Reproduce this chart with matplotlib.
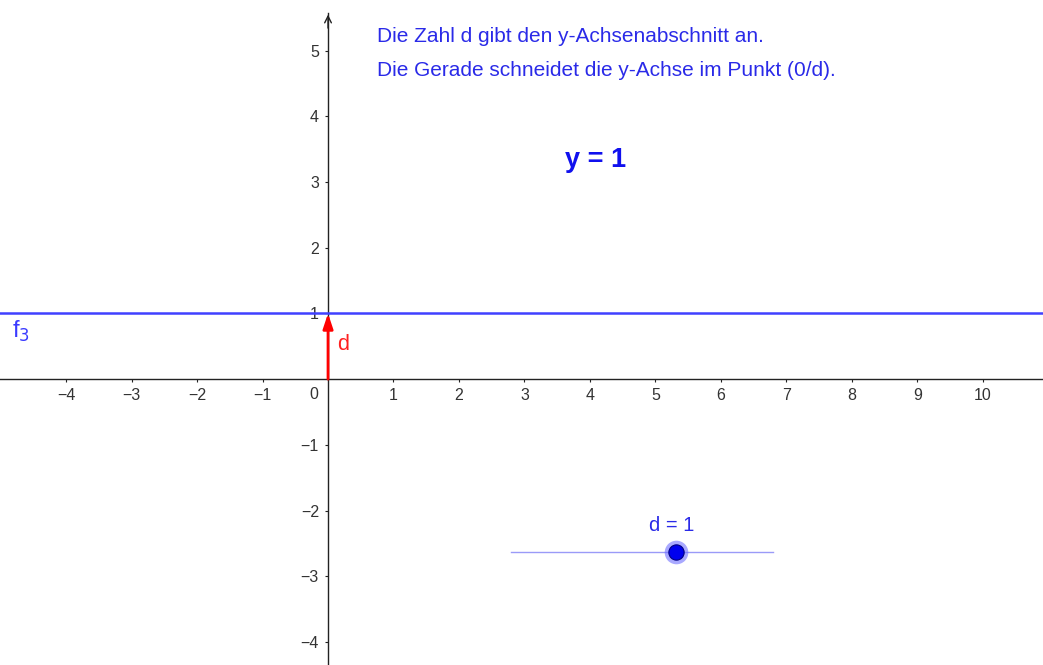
import matplotlib
matplotlib.use("Agg")
import matplotlib.pyplot as plt

plt.rcParams['font.family'] = ['Liberation Sans', 'DejaVu Sans']

# data
d_value = 1
x_ticks = [-4, -3, -2, -1, 1, 2, 3, 4, 5, 6, 7, 8, 9, 10]
y_ticks = [-4, -3, -2, -1, 1, 2, 3, 4, 5]
x_range = [-5.01, 10.92]
y_range = [-4.35, 5.77]
slider_min, slider_max = 2.79, 6.79
slider_y = -2.63
slider_point = 5.31
info_lines = ["Die Zahl d gibt den y-Achsenabschnitt an.",
              "Die Gerade schneidet die y-Achse im Punkt (0/d)."]

W, H = 1043, 665
fig = plt.figure(figsize=(W / 100, H / 100), dpi=100)
ax = fig.add_axes([0, 0, 1, 1])
ax.set_xlim(*x_range)
ax.set_ylim(*y_range)

for s in ['top', 'right']:
    ax.spines[s].set_visible(False)
ax.spines['left'].set_position(('data', 0))
ax.spines['bottom'].set_position(('data', 0))
ax.spines['left'].set_bounds(y_range[0], 5.57)
for s in ['left', 'bottom']:
    ax.spines[s].set_color('#222222')
    ax.spines[s].set_linewidth(1.0)

ax.set_xticks(x_ticks)
ax.set_yticks(y_ticks)
ax.set_xticklabels([str(v).replace('-', '\u2212') for v in x_ticks])
ax.set_yticklabels([str(v).replace('-', '\u2212') for v in y_ticks])
ax.tick_params(axis='both', direction='out', length=2.5, width=0.8,
               colors='#222222', labelcolor='#333333', labelsize=11.5, pad=4.0)

# y-axis arrow head
ax.annotate('', xy=(0, 5.59), xytext=(0, 5.3),
            arrowprops=dict(arrowstyle='->', color='#222222', lw=1.0,
                            mutation_scale=12))

# origin label
ax.text(-0.22, -0.23, '0', fontsize=11.5, color='#333333', ha='center', va='center')

# line f3: y = d
ax.axhline(d_value, color='#4040ff', lw=1.8, zorder=3)
ax.text(-4.69, 0.73, r'f$_3$', fontsize=17, color='#3a3aff', ha='center', va='center')

# vector d
ax.annotate('', xy=(0, d_value), xytext=(0, 0),
            arrowprops=dict(arrowstyle='-|>,head_width=0.3,head_length=0.9',
                            color='#ff0000', lw=2.0, shrinkA=0, shrinkB=0),
            zorder=4)
ax.text(0.23, 0.52, 'd', fontsize=15.5, color='#ff2020', ha='center', va='center')

# texts
ax.text(0.75, 5.21, info_lines[0], fontsize=15, color='#2a2ae8', ha='left', va='center')
ax.text(0.75, 4.70, info_lines[1], fontsize=15, color='#2a2ae8', ha='left', va='center')
ax.text(4.08, 3.34, 'y = %d' % d_value, fontsize=19.5, fontweight='bold',
        color='#1010ee', ha='center', va='center')

# slider
ax.plot([slider_min, slider_max], [slider_y, slider_y], color='#9a9af8', lw=1.0, zorder=2)
ax.plot([slider_point], [slider_y], 'o', ms=17, color='#7070ff', alpha=0.6, mec='none', zorder=3)
ax.plot([slider_point], [slider_y], 'o', ms=11, color='#0000ee', mec='#000080', mew=0.8, zorder=4)
ax.text(slider_point - 0.06, slider_y + 0.40, 'd = %d' % d_value, fontsize=14.5,
        color='#2a2ae8', ha='center', va='center')

fig.savefig('out.png', dpi=100)
